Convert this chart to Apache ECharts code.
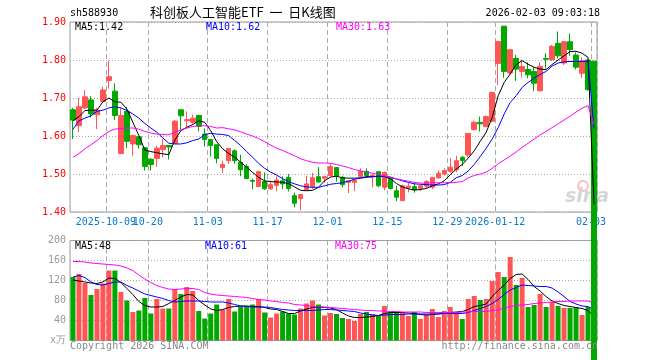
<!DOCTYPE html>
<html>
<head>
<meta charset="utf-8">
<script src="https://cdn.jsdelivr.net/npm/echarts@6.0.0/dist/echarts.min.js"></script>
<style>html,body{margin:0;padding:0;background:#fff}#c{width:660px;height:360px}</style>
</head>
<body>
<div id="c"></div>
<script>
const dates = ['2025-09-23','2025-09-24','2025-09-25','2025-09-26','2025-09-29','2025-09-30',
'2025-10-09','2025-10-10','2025-10-13','2025-10-14','2025-10-15','2025-10-16','2025-10-17','2025-10-20','2025-10-21','2025-10-22','2025-10-23','2025-10-24','2025-10-27','2025-10-28','2025-10-29','2025-10-30','2025-10-31',
'2025-11-03','2025-11-04','2025-11-05','2025-11-06','2025-11-07','2025-11-10','2025-11-11','2025-11-12','2025-11-13','2025-11-14','2025-11-17','2025-11-18','2025-11-19','2025-11-20','2025-11-21','2025-11-24','2025-11-25','2025-11-26','2025-11-27','2025-11-28',
'2025-12-01','2025-12-02','2025-12-03','2025-12-04','2025-12-05','2025-12-08','2025-12-09','2025-12-10','2025-12-11','2025-12-12','2025-12-15','2025-12-16','2025-12-17','2025-12-18','2025-12-19','2025-12-22','2025-12-23','2025-12-24','2025-12-25','2025-12-26','2025-12-29','2025-12-30','2025-12-31',
'2026-01-05','2026-01-06','2026-01-07','2026-01-08','2026-01-09','2026-01-12','2026-01-13','2026-01-14','2026-01-15','2026-01-16','2026-01-19','2026-01-20','2026-01-21','2026-01-22','2026-01-23','2026-01-26','2026-01-27','2026-01-28','2026-01-29','2026-01-30',
'2026-02-02','2026-02-03'];

const tickDates = ['2025-10-09','2025-10-20','2025-11-03','2025-11-17','2025-12-01','2025-12-15','2025-12-29','2026-01-12','2026-02-03'];
const tickTexts = ['2025-10-09','10-20','11-03','11-17','12-01','12-15','12-29','2026-01-12','02-03'];
const priceTicks = [1.40, 1.50, 1.60, 1.70, 1.80, 1.90];
const volTicks = [0, 40, 80, 120, 160, 200];

const opens = [1.669,1.627,1.674,1.695,1.656,1.691,1.746,1.718,1.554,1.665,1.579,1.598,1.569,1.539,1.541,1.564,1.575,1.581,1.669,1.640,1.636,1.654,1.605,1.591,1.577,
1.517,1.535,1.561,1.531,1.520,1.483,1.467,1.480,1.461,1.470,1.482,1.491,1.443,1.435,1.459,1.467,1.493,1.489,1.496,1.517,1.491,1.478,1.478,1.494,1.507,1.492,1.506,1.465,1.489,1.456,1.430,1.464,1.467,
1.462,1.468,1.465,1.490,1.500,1.507,1.511,1.544,1.550,1.617,1.636,1.625,1.639,1.791,1.889,1.766,1.804,1.770,1.775,1.770,1.719,1.804,1.801,1.844,1.792,1.848,1.813,1.765,1.800,1.797];
const closes = [1.642,1.677,1.703,1.658,1.668,1.721,1.756,1.654,1.654,1.586,1.601,1.577,1.520,1.525,1.568,1.575,1.571,1.639,1.653,1.643,1.647,1.625,1.591,1.575,1.541,
1.525,1.567,1.535,1.511,1.488,1.481,1.506,1.461,1.472,1.484,1.474,1.462,1.423,1.446,1.474,1.490,1.479,1.493,1.520,1.495,1.472,1.482,1.483,1.507,1.496,1.496,1.469,1.504,1.462,1.439,1.469,1.468,1.458,
1.469,1.480,1.491,1.502,1.509,1.518,1.535,1.535,1.607,1.636,1.632,1.651,1.715,1.849,1.770,1.827,1.776,1.783,1.761,1.739,1.783,1.802,1.836,1.811,1.848,1.827,1.781,1.798,1.722,0.0];
const lows = [1.592,1.610,1.671,1.649,1.618,1.688,1.725,1.642,1.552,1.568,1.548,1.567,1.509,1.509,1.519,1.544,1.538,1.579,1.616,1.618,1.632,1.612,1.572,1.546,1.528,
1.502,1.527,1.527,1.494,1.487,1.460,1.466,1.458,1.458,1.455,1.460,1.454,1.412,1.404,1.456,1.460,1.477,1.477,1.494,1.480,1.465,1.450,1.455,1.491,1.491,1.465,1.465,1.457,1.459,1.429,1.429,1.452,1.451,
1.455,1.462,1.460,1.487,1.496,1.503,1.505,1.521,1.544,1.614,1.612,1.623,1.636,1.734,1.753,1.763,1.745,1.754,1.752,1.718,1.717,1.778,1.797,1.804,1.787,1.811,1.775,1.753,1.719,0.0];
const highs = [1.674,1.700,1.721,1.705,1.674,1.730,1.798,1.739,1.674,1.677,1.604,1.600,1.569,1.542,1.574,1.592,1.575,1.642,1.669,1.665,1.656,1.656,1.620,1.592,1.577,
1.535,1.568,1.565,1.551,1.525,1.488,1.509,1.504,1.483,1.494,1.494,1.500,1.451,1.446,1.496,1.503,1.518,1.496,1.526,1.517,1.496,1.482,1.486,1.515,1.515,1.502,1.506,1.506,1.492,1.469,1.472,1.477,1.478,
1.472,1.484,1.491,1.509,1.515,1.541,1.548,1.547,1.607,1.640,1.651,1.654,1.715,1.849,1.889,1.827,1.814,1.801,1.794,1.781,1.794,1.818,1.840,1.875,1.848,1.870,1.820,1.807,1.800,1.797];

const ma5 = [1.640,1.651,1.667,1.668,1.668,1.690,1.700,1.690,1.689,1.671,1.636,1.601,1.563,1.559,1.556,1.553,1.551,1.589,1.614,1.623,1.630,1.640,1.636,1.614,1.585,
1.566,1.554,1.544,1.531,1.518,1.504,1.491,1.482,1.480,1.479,1.478,1.475,1.466,1.457,1.456,1.457,1.465,1.482,1.492,1.494,1.490,1.489,1.489,1.490,1.493,1.493,1.494,1.493,1.488,1.475,1.466,1.461,1.458,
1.459,1.462,1.469,1.474,1.482,1.498,1.513,1.525,1.542,1.561,1.586,1.610,1.649,1.706,1.741,1.763,1.788,1.798,1.789,1.781,1.776,1.775,1.788,1.800,1.811,1.822,1.823,1.818,1.807,1.42];
const ma10 = [1.618,1.640,1.647,1.653,1.665,1.668,1.674,1.677,1.674,1.667,1.658,1.647,1.633,1.621,1.610,1.595,1.581,1.579,1.579,1.582,1.588,1.592,1.604,1.607,1.605,
1.604,1.601,1.588,1.575,1.559,1.544,1.528,1.515,1.505,1.497,1.488,1.480,1.474,1.469,1.466,1.465,1.465,1.469,1.473,1.475,1.477,1.481,1.486,1.489,1.491,1.493,1.494,1.494,1.492,1.487,1.482,1.478,1.474,
1.473,1.472,1.471,1.471,1.472,1.478,1.490,1.496,1.508,1.525,1.546,1.568,1.592,1.622,1.658,1.688,1.706,1.728,1.741,1.752,1.762,1.770,1.784,1.792,1.795,1.796,1.796,1.796,1.797,1.62];
const ma30 = [1.544,1.554,1.566,1.577,1.588,1.601,1.612,1.618,1.620,1.621,1.621,1.618,1.612,1.608,1.605,1.604,1.603,1.610,1.616,1.621,1.625,1.627,1.627,1.625,1.621,
1.622,1.619,1.616,1.611,1.605,1.600,1.593,1.585,1.576,1.568,1.562,1.555,1.548,1.540,1.535,1.531,1.529,1.529,1.528,1.525,1.521,1.517,1.512,1.508,1.505,1.502,1.499,1.495,1.491,1.487,1.484,1.481,1.478,
1.476,1.476,1.477,1.477,1.477,1.477,1.478,1.480,1.490,1.496,1.500,1.505,1.515,1.527,1.537,1.547,1.558,1.570,1.581,1.592,1.603,1.612,1.622,1.632,1.642,1.652,1.663,1.673,1.680,1.63];

const volumes = [127,133,115,91,103,114,140,140,97,80,57,60,85,54,83,64,64,103,93,107,99,59,44,54,72,
62,83,58,68,67,72,83,56,46,54,58,54,52,64,74,80,72,50,55,53,45,43,39,53,57,53,49,69,57,57,57,49,57,
43,51,63,47,59,67,57,43,83,89,81,83,119,137,127,167,111,125,67,71,93,67,77,69,65,65,67,51,67,0];
const vma5 = [121,119,117,115,114,117,125,124,116,104,92,78,70,67,67,68,74,80,87,92,91,80,71,63,60,
62,66,68,69,69,68,68,66,63,62,58,54,54,59,63,66,67,66,65,62,55,49,46,46,47,48,50,54,56,56,56,55,54,
52,51,52,53,55,56,57,58,62,68,70,73,88,100,111,124,132,133,122,108,99,88,79,74,70,68,66,64,60,48];
const vma10 = [127,130,126,117,112,111,114,117,117,110,105,99,93,90,87,84,80,77,78,79,79,79,78,77,77,
77,75,72,69,68,67,67,67,66,64,62,61,60,60,60,60,61,62,62,61,60,59,58,55,53,51,50,51,52,52,52,53,53,
53,53,53,53,54,54,54,54,56,60,64,68,74,82,92,101,106,111,110,109,108,108,105,97,88,78,73,69,68,61];
const vma30 = [158,158,157,155,154,153,152,151,149,145,140,131,123,116,110,106,103,102,103,104,104,102,96,93,91,
90,89,88,87,86,84,82,81,79,78,76,75,72,71,70,68,68,67,66,65,64,63,62,61,60,60,59,59,58,58,57,57,57,
57,56,56,56,56,56,56,57,57,58,58,58,60,61,65,68,70,71,72,74,75,76,77,78,78,79,79,79,79,75];

const RED = '#ff5555', GREEN = '#00a800';
const MONO = '"DejaVu Sans Mono", monospace';
const ohlc = dates.map((d, i) => [opens[i], closes[i], lows[i], highs[i]]);
const volItems = volumes.map((v, i) => ({ value: v, itemStyle: { color: closes[i] >= opens[i] ? RED : GREEN } }));
const tickIdx = (idx) => tickDates.indexOf(dates[idx]);
const isTick = (idx) => tickIdx(idx) >= 0;
const last = (a) => a[a.length - 1];

const chart = echarts.init(document.getElementById('c'), null, { renderer: 'canvas' });

// labelSet: which tick labels (by parity in tickDates) this axis shows; two interleaved axes avoid overlap-hiding
const xAxisDef = (gi, labelSet, showSplit) => ({
  type: 'category', gridIndex: gi, data: dates, boundaryGap: true, position: 'bottom',
  axisLine: { show: false }, axisTick: { show: false },
  axisLabel: {
    show: labelSet !== null,
    interval: (idx) => { const k = tickIdx(idx); return k >= 0 && labelSet !== null && k % 2 === labelSet; },
    hideOverlap: false, showMinLabel: true, showMaxLabel: true,
    color: '#0a7ad0', fontFamily: MONO, fontSize: 10, margin: 5,
    padding: [0, 6, 0, 0],
    formatter: (v) => { const k = tickDates.indexOf(v); return k >= 0 ? tickTexts[k] : ''; }
  },
  splitLine: { show: showSplit, interval: (idx) => isTick(idx), lineStyle: { color: '#aaa', type: [5, 3], width: 1 } }
});

const lineS = (xi, yi, data, color, z) => ({
  type: 'line', xAxisIndex: xi, yAxisIndex: yi, data: data, symbol: 'none', smooth: false,
  lineStyle: { color: color, width: 1 }, itemStyle: { color: color }, z: z, silent: true
});

const txt = (x, y, text, fill, font, align) => ({
  type: 'text', x: x, y: y, silent: true, z: 10,
  style: { text: text, fill: fill, font: font || ('10px ' + MONO), textAlign: align || 'left', textVerticalAlign: 'middle' }
});

chart.setOption({
  animation: false,
  backgroundColor: '#fff',
  grid: [
    { left: 70, top: 22, width: 527, height: 190, show: true, borderColor: '#999', borderWidth: 1, backgroundColor: 'transparent' },
    { left: 70, top: 240.5, width: 527, height: 100, show: true, borderColor: '#999', borderWidth: 1, backgroundColor: 'transparent' }
  ],
  xAxis: [xAxisDef(0, 0, true), xAxisDef(1, null, true), xAxisDef(0, 1, false)],
  yAxis: [
    { type: 'value', gridIndex: 0, min: priceTicks[0], max: last(priceTicks), interval: 0.1,
      axisLine: { show: false }, axisTick: { show: false },
      axisLabel: { color: '#ff0000', fontFamily: MONO, fontSize: 10, margin: 4, formatter: (v) => v.toFixed(2) },
      splitLine: { show: true, lineStyle: { color: '#aaa', type: [1, 2], width: 1 } } },
    { type: 'value', gridIndex: 1, min: volTicks[0], max: last(volTicks), interval: 40,
      axisLine: { show: false }, axisTick: { show: false },
      axisLabel: { color: '#999', fontFamily: MONO, fontSize: 10, margin: 4, formatter: (v) => v === 0 ? 'x万' : String(v) },
      splitLine: { show: true, lineStyle: { color: '#aaa', type: [1, 2], width: 1 } } }
  ],
  series: [
    { type: 'bar', xAxisIndex: 1, yAxisIndex: 1, data: volItems, barWidth: 5, z: 1, silent: true },
    lineS(1, 1, vma5, '#000000', 2),
    lineS(1, 1, vma10, '#0000ff', 2),
    lineS(1, 1, vma30, '#ff00ff', 2),
    { type: 'candlestick', xAxisIndex: 0, yAxisIndex: 0, data: ohlc, barWidth: 5, clip: false, z: 3, silent: true,
      itemStyle: { color: RED, color0: GREEN, borderColor: RED, borderColor0: GREEN, borderWidth: 1 } },
    lineS(0, 0, ma5, '#000000', 4),
    lineS(0, 0, ma10, '#0000ff', 4),
    lineS(0, 0, ma30, '#ff00ff', 4)
  ],
  graphic: [
    txt(70, 13, 'sh588930', '#000'),
    txt(150, 12.5, '科创板人工智能ETF  一  日K线图', '#000', '13px "Noto Sans CJK SC"'),
    txt(600, 13, '2026-02-03 09:03:18', '#000', null, 'right'),
    txt(75, 27, 'MA5:' + last(ma5).toFixed(2), '#000'),
    txt(206, 27, 'MA10:' + last(ma10).toFixed(2), '#0000ff'),
    txt(336, 27, 'MA30:' + last(ma30).toFixed(2), '#ff00ff'),
    txt(75, 246, 'MA5:' + last(vma5), '#000'),
    txt(205, 246, 'MA10:' + last(vma10), '#0000ff'),
    txt(335, 246, 'MA30:' + last(vma30), '#ff00ff'),
    txt(70, 346, 'Copyright 2026 SINA.COM', '#888'),
    txt(598, 346, 'http://finance.sina.com.cn', '#888', null, 'right'),
    { type: 'circle', shape: { cx: 583, cy: 186, r: 5 }, silent: true, z: 0,
      style: { fill: 'none', stroke: '#f5c0c0', lineWidth: 2 } },
    { type: 'text', x: 565, y: 197, silent: true, z: 0,
      style: { text: 'sina', fill: '#d6d6d6', font: 'italic bold 19px "DejaVu Sans"', textAlign: 'left', textVerticalAlign: 'middle' } }
  ]
});
</script>
</body>
</html>
